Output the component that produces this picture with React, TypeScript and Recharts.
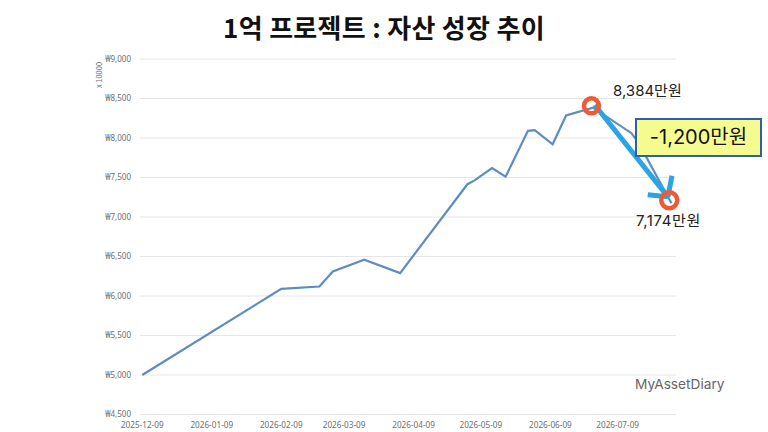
import React from "react";
import { LineChart, Line, XAxis, YAxis, CartesianGrid, ReferenceLine, ReferenceDot } from "recharts";

const pointDates = ["2025-12-09","2026-02-09","2026-02-26","2026-03-04","2026-03-18","2026-04-03","2026-05-03","2026-05-06","2026-05-14","2026-05-20","2026-05-30","2026-06-02","2026-06-10","2026-06-16","2026-06-28","2026-07-15","2026-07-18","2026-08-02"];
const pointValues = [5000,6090,6120,6310,6460,6290,7415,7460,7620,7510,8090,8100,7920,8285,8384,8064,7954,7174];
const xTickLabels = ["2025-12-09","2026-01-09","2026-02-09","2026-03-09","2026-04-09","2026-05-09","2026-06-09","2026-07-09"];
const yTicks = [4500,5000,5500,6000,6500,7000,7500,8000,8500,9000];

const ms = (s: string) => Date.parse(s + "T00:00:00Z");
const DAY = 86400000;
const fmtDate = (t: number) => new Date(t).toISOString().slice(0, 10);
const fmtWon = (v: number) => "₩" + v.toLocaleString("en-US");
const rows = pointDates.map((d, i) => ({ t: ms(d), v: pointValues[i] }));

const peak = rows[14];
const trough = rows[17];
const arrowTip = { x: ms("2026-07-31") + DAY * 0.4, y: 7255 };
const arrowStart = { x: ms("2026-06-28") + DAY * 0.8, y: 8418 };
const headA = { x: ms("2026-07-22") + DAY * 0.4, y: 7281 };
const headB = { x: ms("2026-08-02") + DAY * 0.2, y: 7521 };

const FONT = '"Noto Sans CJK KR", "Noto Sans", sans-serif';
const LABEL_FONT = '"Inter", "Noto Sans CJK KR", sans-serif';
const TICK_FONT = '"Noto Sans", "Noto Sans CJK KR", sans-serif';
const BLUE = "#29a5e3";
const RED = "#ef5a33";

const abs = (s: React.CSSProperties): React.CSSProperties => ({ position: "absolute", whiteSpace: "nowrap", fontFamily: FONT, ...s });

export default function App() {
  return (
    <div style={{ position: "absolute", left: 0, top: 0, width: 768, height: 432, background: "#fff", overflow: "hidden" }}>
      <LineChart width={768} height={432} data={rows} margin={{ top: 59, right: 92, bottom: 2, left: 78 }}>
        <CartesianGrid vertical={false} stroke="#e6e6e6" strokeWidth={1} />
        <XAxis
          dataKey="t"
          type="number"
          scale="linear"
          domain={[ms("2025-12-09") - DAY, ms("2026-08-04")]}
          ticks={xTickLabels.map(ms)}
          tickFormatter={fmtDate}
          interval={0}
          height={15.5}
          axisLine={false}
          tickLine={false}
          tickMargin={2}
          tick={{ fontSize: 8.2, fill: "#6e6e6e", fontFamily: TICK_FONT }}
        />
        <YAxis
          type="number"
          domain={[4500, 9000]}
          ticks={yTicks}
          tickFormatter={fmtWon}
          width={62}
          axisLine={false}
          tickLine={false}
          tickMargin={3}
          tick={{ fontSize: 8, fill: "#6e6e6e", fontFamily: TICK_FONT }}
        />
        <Line type="linear" dataKey="v" stroke="#5f8cc0" strokeWidth={2.2} dot={false} isAnimationActive={false} />
        <ReferenceDot x={peak.t - DAY * 0.7} y={8407} r={7.5} fill="none" stroke={RED} strokeWidth={4.5} ifOverflow="visible" />
        <ReferenceDot x={trough.t - DAY} y={7212} r={8} fill="none" stroke={RED} strokeWidth={4.5} ifOverflow="visible" />
        <ReferenceLine segment={[arrowStart, arrowTip]} stroke={BLUE} strokeWidth={5} ifOverflow="visible" />
        <ReferenceLine segment={[headA, arrowTip]} stroke={BLUE} strokeWidth={5} ifOverflow="visible" />
        <ReferenceLine segment={[headB, arrowTip]} stroke={BLUE} strokeWidth={5} ifOverflow="visible" />
      </LineChart>

      <div style={{ ...abs({ left: 0, width: 768, top: 9, textAlign: "center", fontSize: 26, letterSpacing: 0.3, fontWeight: 700, lineHeight: "36px", color: "#111" }) }}>
        1억 프로젝트 : 자산 성장 추이
      </div>
      <div style={abs({ left: 99, top: 75, fontSize: 7.5, color: "#6e6e6e", lineHeight: "10px", transform: "translate(-50%,-50%) rotate(-90deg)" })}>
        x 10000
      </div>
      <div style={abs({ left: 613, top: 80, fontSize: 15, lineHeight: "22px", color: "#222", fontFamily: LABEL_FONT })}>8,384만원</div>
      <div style={abs({ left: 636, top: 210, fontSize: 15, letterSpacing: 0.6, lineHeight: "22px", color: "#222", fontFamily: LABEL_FONT })}>7,174만원</div>
      <div style={abs({ left: 635, top: 118, width: 127, height: 39, boxSizing: "border-box", background: "#f6fb90", border: "2px solid #2f5fa8", textAlign: "center", fontSize: 20, lineHeight: "35px", color: "#111", fontFamily: LABEL_FONT })}>
        -1,200만원
      </div>
      <div style={abs({ left: 635, top: 374, fontSize: 13.7, lineHeight: "20px", color: "#666", fontFamily: '"Inter", "Noto Sans", sans-serif' })}>MyAssetDiary</div>
    </div>
  );
}
